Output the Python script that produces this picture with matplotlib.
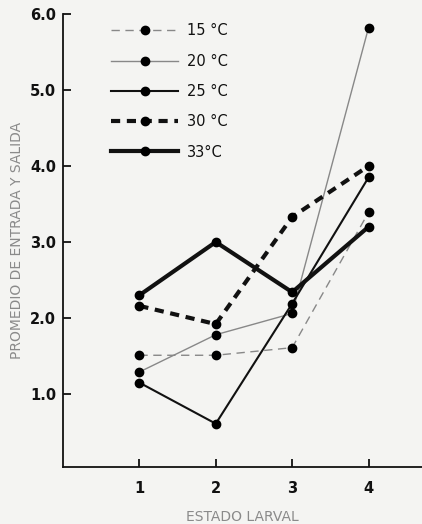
import matplotlib
matplotlib.use("Agg")
import matplotlib.pyplot as plt

estados = [1, 2, 3, 4]
t15 = [1.51, 1.51, 1.61, 3.39]
t20 = [1.29, 1.78, 2.06, 5.82]
t25 = [1.15, 0.61, 2.19, 3.85]
t30 = [2.16, 1.92, 3.33, 4.00]
t33 = [2.30, 3.00, 2.34, 3.20]
labels = ["15 °C", "20 °C", "25 °C", "30 °C", "33°C"]
yticks = [1.0, 2.0, 3.0, 4.0, 5.0, 6.0]

bg = "#f4f4f2"
fig = plt.figure(figsize=(4.22, 5.24), dpi=100, facecolor=bg)
ax = fig.add_axes([63/422, 57/524, 359/422, 453/524], facecolor=bg)

ms = 6
ax.plot(estados, t15, color="#888888", lw=1.0, dashes=(6, 4), marker="o", ms=ms,
        mfc="black", mec="black", label=labels[0])
ax.plot(estados, t20, color="#888888", lw=1.0, marker="o", ms=ms,
        mfc="black", mec="black", label=labels[1])
ax.plot(estados, t25, color="#111111", lw=1.5, marker="o", ms=ms,
        mfc="black", mec="black", label=labels[2])
ax.plot(estados, t30, color="#111111", lw=3.0, dashes=(2.2, 1.6), marker="o", ms=ms,
        mfc="black", mec="black", label=labels[3])
ax.plot(estados, t33, color="#111111", lw=3.0, marker="o", ms=ms,
        mfc="black", mec="black", label=labels[4])

ax.set_xlim(0, 4.7)
ax.set_ylim(0.04, 6.0)
ax.set_xticks(estados)
ax.set_yticks(yticks)
ax.set_yticklabels([f"{v:.1f}" for v in yticks])
for s in ["top", "right"]:
    ax.spines[s].set_visible(False)
for s in ["left", "bottom"]:
    ax.spines[s].set_linewidth(1.3)
    ax.spines[s].set_color("#111111")
ax.tick_params(axis="both", direction="in", length=6, width=1.3, color="#111111",
               labelsize=10.5, pad=5)
for lab in ax.get_xticklabels() + ax.get_yticklabels():
    lab.set_fontweight("bold")
    lab.set_color("#111111")
ax.tick_params(axis="x", pad=10)

ax.set_ylabel("PROMEDIO DE ENTRADA Y SALIDA", color="#8a8a8a", fontsize=10,
              labelpad=4)
ax.set_xlabel("ESTADO LARVAL", color="#8a8a8a", fontsize=10, labelpad=10)

leg = ax.legend(loc="upper left", bbox_to_anchor=(104/422, 1 - 16/524),
                bbox_transform=fig.transFigure, frameon=False, borderpad=0,
                handlelength=4.6, handletextpad=0.6, labelspacing=1.05,
                fontsize=10.5)
for t in leg.get_texts():
    t.set_color("#111111")

fig.savefig("out.png", dpi=100, facecolor=bg)
